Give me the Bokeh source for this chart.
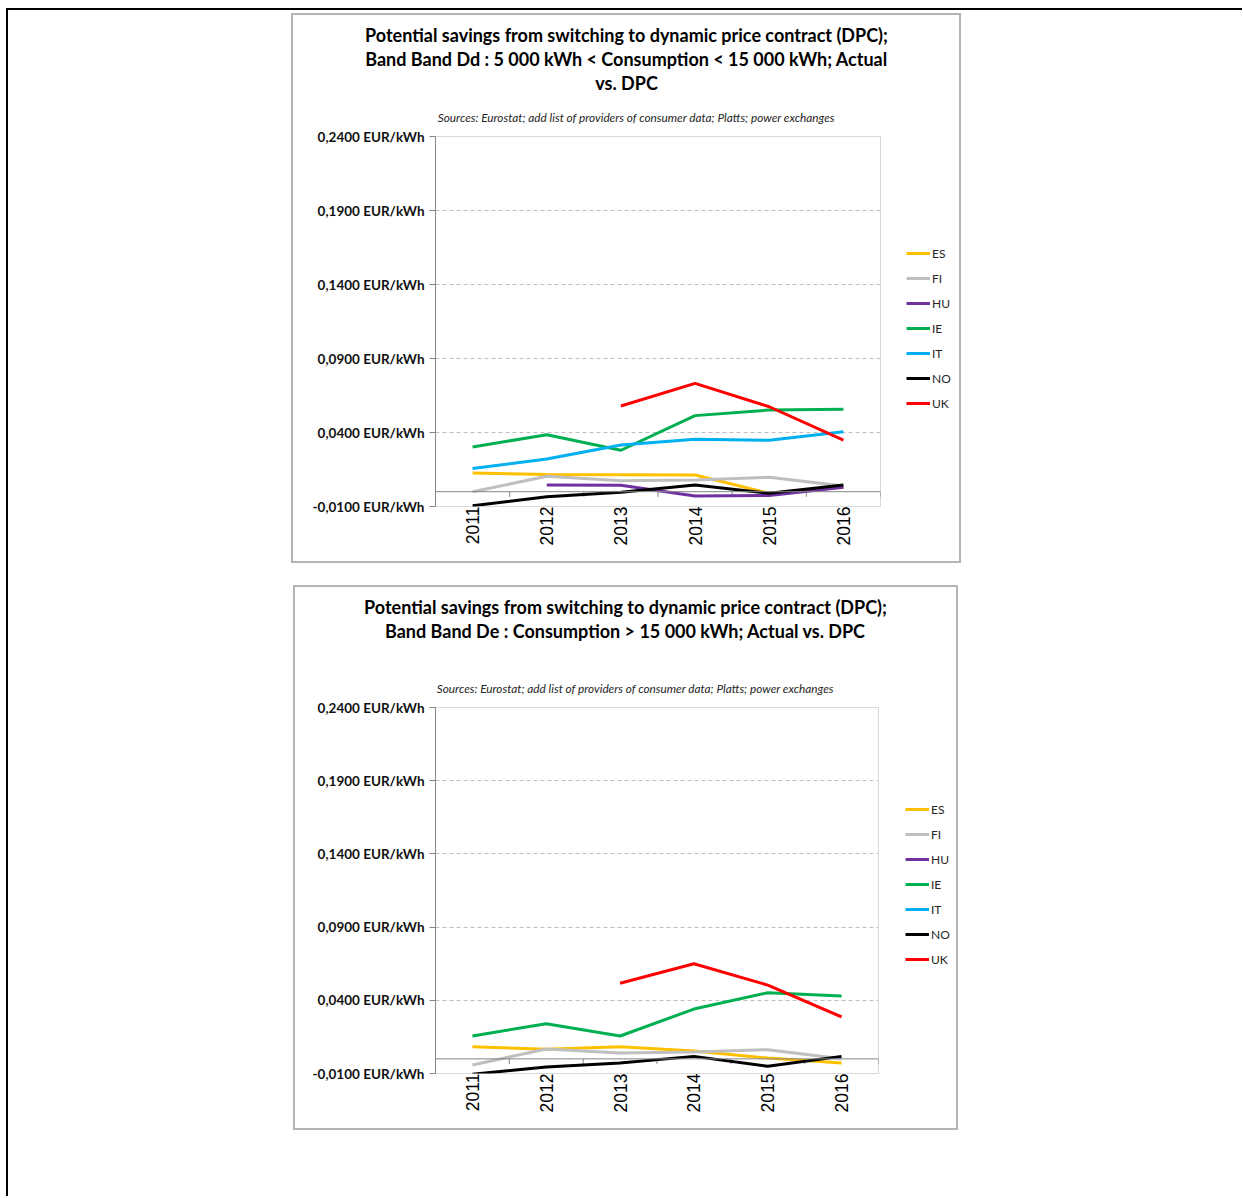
import math
import numpy as np
from bokeh.plotting import figure
from bokeh.models import (ColumnDataSource, FactorRange, Range1d, Legend, LegendItem,
                          Span, Label, FixedTicker, Div, Spacer)
from bokeh.layouts import column, row
from bokeh.transform import dodge
from bokeh.embed import file_html
from bokeh.resources import INLINE

nan = float("nan")

years = ["2011", "2012", "2013", "2014", "2015", "2016"]
countries = ["ES", "FI", "HU", "IE", "IT", "NO", "UK"]
colors = ["#FFC000", "#BFBFBF", "#7030A0", "#00B050", "#00B0F0", "#000000", "#FF0000"]

y_ticks = [-0.01, 0.04, 0.09, 0.14, 0.19, 0.24]
y_tick_labels = ["-0,0100 EUR/kWh", "0,0400 EUR/kWh", "0,0900 EUR/kWh",
                 "0,1400 EUR/kWh", "0,1900 EUR/kWh", "0,2400 EUR/kWh"]

# Band Dd : 5 000 kWh < Consumption < 15 000 kWh
dd_ES = [0.0126, 0.0117, 0.0115, 0.0113, -0.0011, 0.0030]
dd_FI = [0.0000, 0.0104, 0.0074, 0.0079, 0.0097, 0.0038]
dd_HU = [nan, 0.0045, 0.0043, -0.0029, -0.0025, 0.0030]
dd_IE = [0.0302, 0.0385, 0.0280, 0.0514, 0.0552, 0.0557]
dd_IT = [0.0156, 0.0221, 0.0316, 0.0354, 0.0347, 0.0405]
dd_NO = [-0.0095, -0.0034, -0.0004, 0.0045, -0.0011, 0.0045]
dd_UK = [nan, nan, 0.0579, 0.0732, 0.0574, 0.0349]

# Band De : Consumption > 15 000 kWh
de_ES = [0.0083, 0.0065, 0.0083, 0.0053, 0.0006, -0.0028]
de_FI = [-0.0042, 0.0067, 0.0040, 0.0047, 0.0063, 0.0000]
de_HU = [nan, nan, nan, nan, nan, nan]
de_IE = [0.0156, 0.0240, 0.0156, 0.0340, 0.0452, 0.0429]
de_IT = [nan, nan, nan, nan, nan, nan]
de_NO = [-0.0105, -0.0056, -0.0028, 0.0017, -0.0051, 0.0017]
de_UK = [nan, nan, 0.0516, 0.0650, 0.0504, 0.0286]

title_dd = ["Potential savings from switching to dynamic price contract (DPC);",
            "Band Band Dd : 5 000 kWh < Consumption < 15 000 kWh; Actual",
            "vs. DPC"]
title_de = ["Potential savings from switching to dynamic price contract (DPC);",
            "Band Band De : Consumption > 15 000 kWh; Actual vs. DPC"]
sources_text = "Sources: Eurostat; add list of providers of consumer data; Platts; power exchanges"

FONT = "Lato"


def blank_fig(w, h):
    f = figure(width=w, height=h, x_range=Range1d(0, 1), y_range=Range1d(0, 1),
               output_backend="svg", toolbar_location=None,
               min_border_left=0, min_border_right=0, min_border_top=0, min_border_bottom=0)
    f.axis.visible = False
    f.grid.visible = False
    f.outline_line_color = None
    f.background_fill_color = "white"
    f.border_fill_color = "white"
    return f


def title_fig(w, h, title_lines, title_x, title_ys, src_x, src_y):
    f = blank_fig(w, h)
    for line, ty in zip(title_lines, title_ys):
        f.add_layout(Label(x=title_x, y=ty, x_units="screen", y_units="screen", text=line,
                           text_align="center", text_baseline="middle",
                           text_font=FONT, text_font_style="bold",
                           text_font_size="18px", text_color="#000000"))
    f.add_layout(Label(x=src_x, y=src_y, x_units="screen", y_units="screen", text=sources_text,
                       text_align="center", text_baseline="middle",
                       text_font=FONT, text_font_style="italic",
                       text_font_size="11.8px", text_color="#262626"))
    return f


def legend_fig(w, h, loc):
    f = blank_fig(w, h)
    items = []
    for c, col in zip(countries, colors):
        # sample glyph for the legend key only (lies outside the visible range)
        r = f.line(x=[10, 11], y=[10, 10], line_color=col, line_width=3)
        items.append(LegendItem(label=c, renderers=[r]))
    legend = Legend(items=items, location=loc, orientation="vertical",
                    glyph_width=24, glyph_height=20, spacing=5, label_standoff=2,
                    padding=0, margin=0, border_line_color=None,
                    background_fill_alpha=0,
                    label_text_font=FONT, label_text_font_size="12px",
                    label_text_color="#262626")
    f.add_layout(legend)
    return f


def chart_fig(series, fw, fh, mbl):
    p = figure(frame_width=fw, frame_height=fh,
               x_range=FactorRange(factors=years, range_padding=0),
               y_range=Range1d(-0.01, 0.24), output_backend="svg", toolbar_location=None,
               min_border_left=mbl, min_border_right=2, min_border_top=10,
               min_border_bottom=55)
    p.background_fill_color = "white"
    p.border_fill_color = "white"
    p.outline_line_color = "#D9D9D9"
    p.outline_line_width = 1

    p.xgrid.visible = False
    p.ygrid.ticker = FixedTicker(ticks=y_ticks)
    p.ygrid.grid_line_color = "#BFBFBF"
    p.ygrid.grid_line_dash = "4 3"
    p.ygrid.grid_line_width = 1

    p.yaxis.ticker = FixedTicker(ticks=y_ticks)
    p.yaxis.major_label_overrides = {t: l for t, l in zip(y_ticks, y_tick_labels)}
    p.yaxis.axis_line_color = "#868686"
    p.yaxis.major_tick_line_color = "#868686"
    p.yaxis.major_tick_out = 6
    p.yaxis.major_tick_in = 0
    p.yaxis.minor_tick_line_color = None
    p.yaxis.major_label_standoff = 5
    p.yaxis.major_label_text_font = FONT
    p.yaxis.major_label_text_font_style = "bold"
    p.yaxis.major_label_text_font_size = "13.5px"
    p.yaxis.major_label_text_color = "#111111"

    p.xaxis.axis_line_color = None
    p.xaxis.major_tick_line_color = None
    p.xaxis.major_tick_out = 0
    p.xaxis.major_tick_in = 0
    p.xaxis.minor_tick_line_color = None
    p.xaxis.major_label_orientation = math.pi / 2
    p.xaxis.major_label_standoff = 0
    p.xaxis.major_label_text_font = "Liberation Sans"
    p.xaxis.major_label_text_font_size = "17.5px"
    p.xaxis.major_label_text_color = "#000000"

    # zero line with category-boundary ticks
    p.add_layout(Span(location=0, dimension="width", line_color="#868686", line_width=1))
    tsrc = ColumnDataSource(dict(year=years))
    p.segment(x0=dodge("year", 0.5, range=p.x_range), x1=dodge("year", 0.5, range=p.x_range),
              y0=0, y1=-0.0035, source=tsrc, line_color="#868686", line_width=1)

    data = dict(year=years)
    for c in countries:
        data[c] = np.array(series[c], dtype=float)
    src = ColumnDataSource(data)
    for c, col in zip(countries, colors):
        p.line(x="year", y=c, source=src, line_color=col, line_width=3)
    return p


def hline(w, color="#B4B4B4", t=2):
    return Div(text="", width=w, height=t, margin=0, styles={"background-color": color})


def vline(h, color="#B4B4B4", t=2):
    return Div(text="", width=t, height=h, margin=0, styles={"background-color": color})


def boxed(content, w, h):
    return row(vline(h), column(hline(w - 4), content, hline(w - 4)), vline(h))


s_dd = dict(ES=dd_ES, FI=dd_FI, HU=dd_HU, IE=dd_IE, IT=dd_IT, NO=dd_NO, UK=dd_UK)
s_de = dict(ES=de_ES, FI=de_FI, HU=de_HU, IE=de_IE, IT=de_IT, NO=de_NO, UK=de_UK)

# chart 1: inner 666 x 546
t1 = title_fig(666, 111, title_dd, 333, [92, 68, 44], 343, 9)
c1 = chart_fig(s_dd, 445, 370, 142)          # 142+445+2 = 589 wide, 10+370+55 = 435 high
l1 = legend_fig(77, 435, (24, 93))
inner1 = column(t1, row(c1, l1))

# chart 2: inner 661 x 541
t2 = title_fig(661, 110, title_de, 330, [91, 67], 340, 9)
c2 = chart_fig(s_de, 443, 366, 140)          # 140+443+2 = 585 wide, 10+366+55 = 431 high
l2 = legend_fig(76, 431, (25, 104))
inner2 = column(t2, row(c2, l2))

box1 = boxed(inner1, 670, 550)
box2 = boxed(inner2, 665, 545)

charts = column(Spacer(height=3), row(Spacer(width=283), box1), Spacer(height=22),
                row(Spacer(width=285), box2))
page = column(Div(text="", width=1236, height=2, margin=0, styles={"background-color": "black"}),
              row(Div(text="", width=2, height=1186, margin=0, styles={"background-color": "black"}),
                  charts))
root = column(Spacer(height=8), row(Spacer(width=6), page))

open("out.html", "w").write(file_html(root, INLINE))
